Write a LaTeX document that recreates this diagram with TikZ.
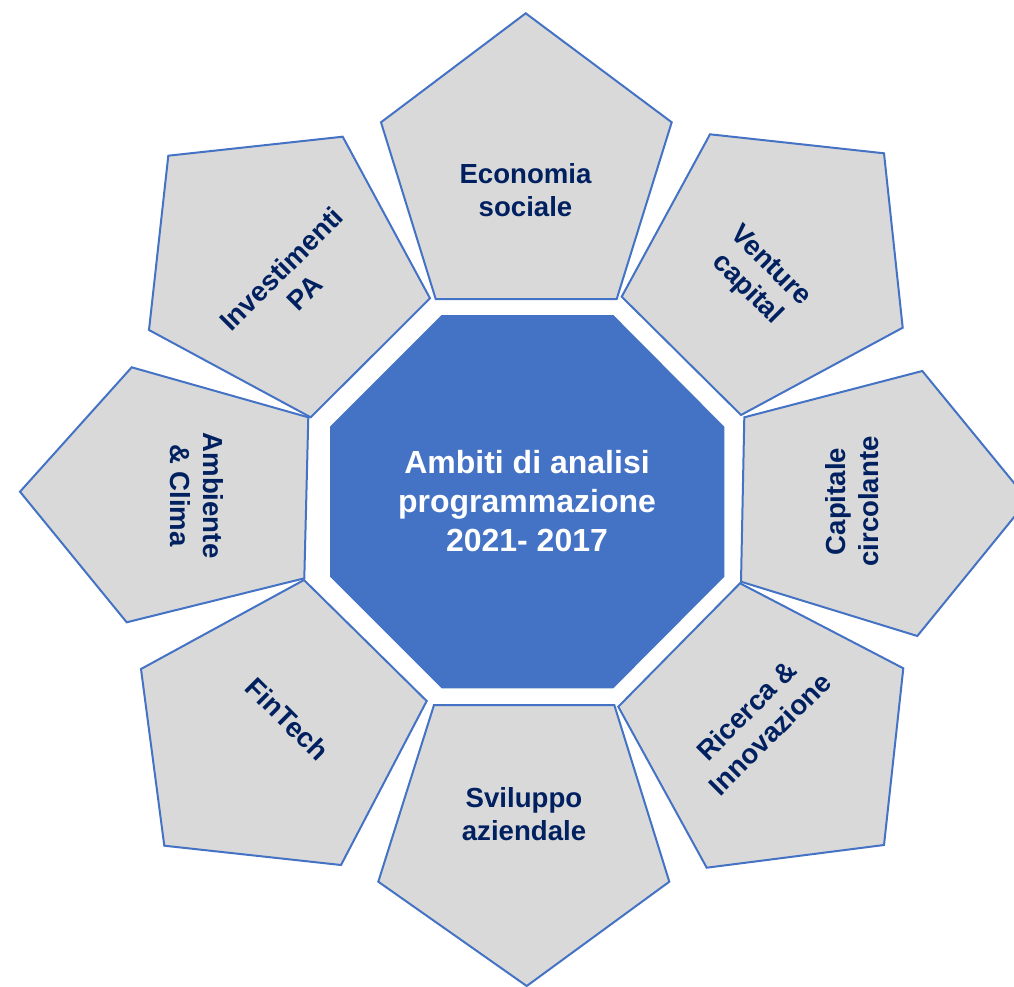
\documentclass[tikz,border=0pt]{standalone}
\usepackage{fontspec}
\setmainfont{Liberation Sans}
\definecolor{obl}{HTML}{4472C4}
\definecolor{pgray}{HTML}{D9D9D9}
\definecolor{navy}{HTML}{002060}
\begin{document}
\begin{tikzpicture}[x=1pt,y=-1pt,
 penta/.style={fill=pgray,draw=obl,line width=2pt,line join=miter},
 octa/.style={fill=obl,draw=none},
 ptext/.style={text=navy,font=\fontsize{27.6}{33}\selectfont\bfseries,align=center,inner sep=0pt},
 ctext/.style={text=white,font=\fontsize{32}{39}\selectfont\bfseries,align=center,inner sep=0pt}]
\useasboundingbox (0,0) rectangle (1014,987);
\clip (0,0) rectangle (1014,987);
% central octagon
\fill[octa] (441.7,315) -- (613.3,315) -- (724.3,426.7) -- (724.3,576.7) -- (613.3,688.3) -- (441.7,688.3) -- (330,576.7) -- (330,426.7) -- cycle;
% pentagons
\draw[penta] (435.7,299) -- (381,122.3) -- (525.7,13.3) -- (671.7,122.3) -- (616.7,299) -- cycle;
\draw[penta] (621.7,296.7) -- (710,134.3) -- (884,153.3) -- (902.7,327.7) -- (741,415) -- cycle;
\draw[penta] (744.3,417.3) -- (922.3,371) -- (1028,500) -- (917.3,636) -- (741,581.7) -- cycle;
\draw[penta] (740,583.3) -- (903.3,668.3) -- (884,845) -- (706.7,867.7) -- (618.3,706.7) -- cycle;
\draw[penta] (434,705) -- (614.3,705) -- (669.3,881.7) -- (526.7,986) -- (378.3,881.7) -- cycle;
\draw[penta] (304,580) -- (426.7,701) -- (341,865) -- (164.3,845.7) -- (141,669) -- cycle;
\draw[penta] (308.3,417.3) -- (304.3,578.3) -- (126.7,622.3) -- (20,491.7) -- (131.7,367.3) -- cycle;
\draw[penta] (310.7,417.3) -- (149,330) -- (168.3,155.7) -- (342.7,136.7) -- (430,298.3) -- cycle;
% texts
\node[ctext] (c) at (527,501.5) {Ambiti di analisi\\programmazione\\2021- 2017};
\node[ptext] (t1) at (525.5,190.5) {Economia\\sociale};
\node[ptext,rotate=-45] (t2) at (758.5,278) {Venture\\capital};
\node[ptext,rotate=90] (t3) at (852.5,501.5) {Capitale\\circolante};
\node[ptext,rotate=45] (t4) at (758,722) {Ricerca \&\\Innovazione};
\node[ptext] (t5) at (524,814) {Sviluppo\\aziendale};
\node[ptext,rotate=-45] (t6) at (287.5,719) {FinTech};
\node[ptext,rotate=-90] (t7) at (197,495.5) {Ambiente\\\& Clima};
\node[ptext,rotate=45] (t8) at (293,280.5) {Investimenti\\PA};
\end{tikzpicture}
\end{document}
